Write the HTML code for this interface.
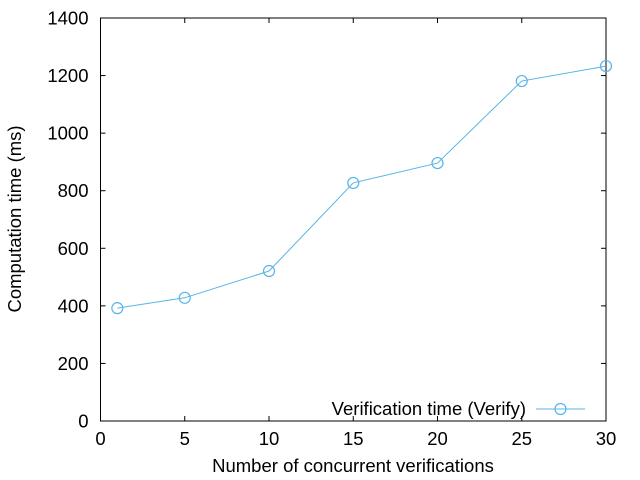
<!DOCTYPE html>
<html><head><meta charset="utf-8"><style>
body{margin:0;background:#fff}
svg{display:block;font-family:"Liberation Sans",sans-serif}
</style></head><body>
<svg id="chart" width="640" height="480">
<rect width="640" height="480" fill="#fff"/>
<g id="axes"></g><g id="series"></g>
<text x="353" y="472" font-size="18.5" text-anchor="middle">Number of concurrent verifications</text>
<text transform="translate(21,219) rotate(-90)" font-size="18.5" text-anchor="middle">Computation time (ms)</text>
<g>
<text x="526" y="415" font-size="18.5" text-anchor="end">Verification time (Verify)</text>
<line x1="536" y1="409" x2="585" y2="409" stroke="#56B4E9" stroke-width="1"/>
<circle cx="560.5" cy="409" r="5.5" fill="none" stroke="#56B4E9" stroke-width="1.2"/>
</g>
</svg>
<script>
const xValues=[1,5,10,15,20,25,30];
const yValues=[392,428,521,827,896,1181,1233];
const xTicks=[0,5,10,15,20,25,30];
const yTicks=[0,200,400,600,800,1000,1200,1400];
const L=100.5,R=606,T=18,B=421;
const sx=v=>L+(v-0)/30*(R-L);
const sy=v=>B-(v-0)/1400*(B-T);
const NS='http://www.w3.org/2000/svg';
const ax=document.getElementById('axes'),se=document.getElementById('series');
function mk(tag,attrs,parent){const e=document.createElementNS(NS,tag);for(const k in attrs)e.setAttribute(k,attrs[k]);parent.appendChild(e);return e;}
const fr=mk('rect',{x:L,y:T,width:R-L,height:B-T,fill:'none',stroke:'#000','stroke-width':1},ax);


xTicks.forEach(t=>{const x=sx(t);
mk('line',{x1:x,y1:B,x2:x,y2:B-5,stroke:'#000'},ax);
mk('line',{x1:x,y1:T,x2:x,y2:T+5,stroke:'#000'},ax);
const tx=mk('text',{x:x,y:B+24,'font-size':18.5,'text-anchor':'middle'},ax);tx.textContent=t;

});
yTicks.forEach(t=>{const y=sy(t);
mk('line',{x1:L,y1:y,x2:L+5,y2:y,stroke:'#000'},ax);
mk('line',{x1:R,y1:y,x2:R-5,y2:y,stroke:'#000'},ax);
const tx=mk('text',{x:L-12,y:y+6.5,'font-size':18.5,'text-anchor':'end'},ax);tx.textContent=t;

});
const pts=xValues.map((x,i)=>sx(x)+','+sy(yValues[i])).join(' ');
const pl=mk('polyline',{points:pts,fill:'none',stroke:'#56B4E9','stroke-width':1},se);


xValues.forEach((x,i)=>{const c=mk('circle',{cx:sx(x),cy:sy(yValues[i]),r:5.5,fill:'none',stroke:'#56B4E9','stroke-width':1.2},se);

});
</script>
</body></html>
